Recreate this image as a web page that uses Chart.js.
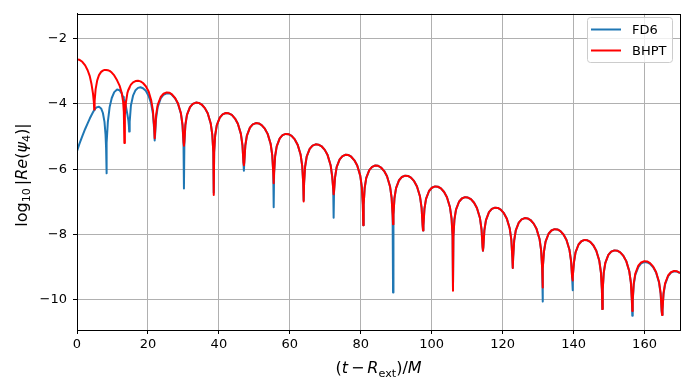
<!DOCTYPE html>
<html>
<head>
<meta charset="utf-8">
<script src="https://cdn.jsdelivr.net/npm/chart.js@4.4.1/dist/chart.umd.min.js"></script>
<style>
  html, body { margin: 0; padding: 0; background: #ffffff; }
  #wrap { width: 690px; height: 390px; position: relative; }
</style>
</head>
<body>
<div id="wrap"><canvas id="c" width="690" height="390"></canvas></div>
<script>
// ---- data ----
const seriesNames = ['FD6', 'BHPT'];
const t = [
  0, 0.7, 1.5, 2.3, 3.0, 3.6, 4.1, 4.5, 4.75, 4.85,
  4.97, 5.25, 5.7, 6.2, 6.8, 7.3, 7.75, 8.05, 8.2, 8.3,
  8.4, 8.7, 9.2, 9.8, 10.5, 11.3, 12.0, 12.6, 13.0, 13.2,
  13.35, 13.5, 13.8, 14.2, 14.5, 14.62, 14.72, 14.85, 15.2, 15.8,
  16.5, 17.2, 17.9, 18.6, 19.4, 20.2, 20.9, 21.4, 21.75, 21.9,
  22.02, 22.3, 22.75, 23.6, 24.4, 25.3, 26.1, 26.75, 27.65, 28.45, 29.3, 29.75, 30.03, 30.15,
  30.27, 30.55, 31.0, 31.85, 32.65, 33.55, 34.35, 35.15, 36.05, 36.85, 37.7, 38.15, 38.43, 38.55,
  38.67, 38.95, 39.4, 40.25, 41.05, 41.95, 42.75, 43.65, 44.55, 45.35, 46.2, 46.65, 46.93, 47.05,
  47.17, 47.45, 47.9, 48.75, 49.55, 50.45, 51.25, 52.05, 52.95, 53.75, 54.6, 55.05, 55.33, 55.45,
  55.57, 55.85, 56.3, 57.15, 57.95, 58.85, 59.65, 60.5, 61.4, 62.2, 63.05, 63.5, 63.78, 63.9,
  64.02, 64.3, 64.75, 65.6, 66.4, 67.3, 68.1, 68.95, 69.85, 70.65, 71.5, 71.95, 72.23, 72.35,
  72.47, 72.75, 73.2, 74.05, 74.85, 75.75, 76.55, 77.3, 78.2, 79.0, 79.85, 80.3, 80.58, 80.7,
  80.82, 81.1, 81.55, 82.4, 83.2, 84.1, 84.9, 85.7, 86.6, 87.4, 88.25, 88.7, 88.98, 89.1,
  89.22, 89.5, 89.95, 90.8, 91.6, 92.5, 93.3, 94.15, 95.05, 95.85, 96.7, 97.15, 97.43, 97.55,
  97.67, 97.95, 98.4, 99.25, 100.05, 100.95, 101.75, 102.6, 103.5, 104.3, 105.15, 105.6, 105.88, 106.0,
  106.12, 106.4, 106.85, 107.7, 108.5, 109.4, 110.2, 111.05, 111.95, 112.75, 113.6, 114.05, 114.33, 114.45,
  114.57, 114.85, 115.3, 116.15, 116.95, 117.85, 118.65, 119.45, 120.35, 121.15, 122.0, 122.45, 122.73, 122.85,
  122.97, 123.25, 123.7, 124.55, 125.35, 126.25, 127.05, 127.85, 128.75, 129.55, 130.4, 130.85, 131.13, 131.25,
  131.37, 131.65, 132.1, 132.95, 133.75, 134.65, 135.45, 136.3, 137.2, 138.0, 138.85, 139.3, 139.58, 139.7,
  139.82, 140.1, 140.55, 141.4, 142.2, 143.1, 143.9, 144.7, 145.6, 146.4, 147.25, 147.7, 147.98, 148.1,
  148.22, 148.5, 148.95, 149.8, 150.6, 151.5, 152.3, 153.15, 154.05, 154.85, 155.7, 156.15, 156.43, 156.55,
  156.67, 156.95, 157.4, 158.25, 159.05, 159.95, 160.75, 161.55, 162.45, 163.25, 164.1, 164.55, 164.83, 164.95,
  165.07, 165.35, 165.8, 166.65, 167.45, 168.35, 169.15, 170.0
];
const bhpt = [
  -2.64, -2.65, -2.71, -2.82, -2.97, -3.15, -3.40, -3.68, -3.95, -4.17,
  -3.92, -3.55, -3.28, -3.12, -3.02, -2.98, -2.96, -2.96, -2.96, -2.96,
  -2.96, -2.97, -2.99, -3.04, -3.13, -3.28, -3.44, -3.66, -3.93, -4.25,
  -5.20, -4.35, -3.95, -3.67, -3.56, -3.53, -3.51, -3.48, -3.41, -3.34,
  -3.30, -3.29, -3.31, -3.36, -3.46, -3.62, -3.88, -4.20, -4.70, -5.05,
  -4.85, -4.34, -4.03, -3.79, -3.69, -3.65, -3.66, -3.71, -3.82, -3.98, -4.29, -4.64, -5.17, -5.28,
  -5.16, -4.65, -4.34, -4.10, -4.00, -3.96, -3.97, -4.02, -4.13, -4.29, -4.60, -4.95, -5.48, -6.79,
  -5.48, -4.97, -4.66, -4.42, -4.32, -4.28, -4.29, -4.34, -4.45, -4.61, -4.92, -5.27, -5.80, -5.88,
  -5.79, -5.28, -4.97, -4.73, -4.63, -4.59, -4.60, -4.65, -4.76, -4.92, -5.23, -5.58, -6.11, -6.43,
  -6.12, -5.61, -5.30, -5.06, -4.96, -4.92, -4.93, -4.98, -5.09, -5.25, -5.56, -5.91, -6.44, -6.99,
  -6.44, -5.93, -5.62, -5.38, -5.28, -5.24, -5.25, -5.30, -5.41, -5.57, -5.88, -6.23, -6.60, -6.77,
  -6.68, -6.25, -5.94, -5.70, -5.60, -5.56, -5.57, -5.62, -5.73, -5.89, -6.20, -6.55, -7.08, -7.72,
  -7.09, -6.58, -6.27, -6.03, -5.93, -5.89, -5.90, -5.95, -6.06, -6.22, -6.53, -6.88, -7.41, -7.69,
  -7.40, -6.89, -6.58, -6.34, -6.24, -6.20, -6.21, -6.26, -6.37, -6.53, -6.84, -7.19, -7.72, -7.88,
  -7.73, -7.22, -6.91, -6.67, -6.57, -6.53, -6.54, -6.59, -6.70, -6.86, -7.17, -7.52, -8.05, -9.73,
  -8.06, -7.55, -7.24, -7.00, -6.90, -6.86, -6.87, -6.92, -7.03, -7.19, -7.50, -7.85, -8.38, -8.50,
  -8.38, -7.87, -7.56, -7.32, -7.22, -7.18, -7.19, -7.24, -7.35, -7.51, -7.82, -8.17, -8.70, -9.03,
  -8.70, -8.19, -7.88, -7.64, -7.54, -7.50, -7.51, -7.56, -7.67, -7.83, -8.14, -8.49, -9.02, -9.63,
  -9.04, -8.53, -8.22, -7.98, -7.88, -7.84, -7.85, -7.90, -8.01, -8.17, -8.48, -8.83, -9.30, -9.41,
  -9.30, -8.86, -8.55, -8.31, -8.21, -8.17, -8.18, -8.23, -8.34, -8.50, -8.81, -9.16, -9.69, -10.29,
  -9.69, -9.18, -8.87, -8.63, -8.53, -8.49, -8.50, -8.55, -8.66, -8.82, -9.13, -9.48, -10.01, -10.35,
  -10.02, -9.51, -9.20, -8.96, -8.86, -8.82, -8.83, -8.88, -8.99, -9.15, -9.46, -9.81, -10.34, -10.47,
  -10.32, -9.81, -9.50, -9.26, -9.16, -9.12, -9.13, -9.18
];
const fd6 = [
  -5.45, -5.22, -4.99, -4.77, -4.60, -4.45, -4.34, -4.26, -4.21, -4.19,
  -4.17, -4.13, -4.10, -4.09, -4.14, -4.28, -4.55, -4.95, -5.35, -6.13,
  -5.20, -4.55, -4.10, -3.82, -3.64, -3.56, -3.58, -3.68, -3.79, -3.85,
  -3.90, -3.96, -4.08, -4.32, -4.52, -4.66, -4.85, -4.55, -4.05, -3.75,
  -3.58, -3.51, -3.49, -3.52, -3.60, -3.76, -3.99, -4.30, -4.78, -5.12,
  -4.95, -4.45, -4.10, -3.83, -3.72, -3.68, -3.68, -3.72, -3.83, -3.99, -4.30, -4.66, -5.25, -6.59,
  -5.25, -4.65, -4.34, -4.10, -4.00, -3.96, -3.97, -4.02, -4.13, -4.29, -4.60, -4.95, -5.48, -6.72,
  -5.48, -4.97, -4.66, -4.42, -4.32, -4.28, -4.29, -4.34, -4.45, -4.61, -4.92, -5.27, -5.80, -6.05,
  -5.79, -5.28, -4.97, -4.73, -4.63, -4.59, -4.60, -4.65, -4.76, -4.92, -5.23, -5.58, -6.11, -7.17,
  -6.12, -5.61, -5.30, -5.06, -4.96, -4.92, -4.93, -4.98, -5.09, -5.25, -5.56, -5.91, -6.44, -6.95,
  -6.44, -5.93, -5.62, -5.38, -5.28, -5.24, -5.25, -5.30, -5.41, -5.57, -5.88, -6.23, -6.60, -7.49,
  -6.68, -6.25, -5.94, -5.70, -5.60, -5.56, -5.57, -5.62, -5.73, -5.89, -6.20, -6.55, -7.08, -7.72,
  -7.09, -6.58, -6.27, -6.03, -5.93, -5.89, -5.90, -5.95, -6.06, -6.22, -6.53, -6.88, -7.41, -9.78,
  -7.40, -6.89, -6.58, -6.34, -6.24, -6.20, -6.21, -6.26, -6.37, -6.53, -6.84, -7.19, -7.72, -7.88,
  -7.73, -7.22, -6.91, -6.67, -6.57, -6.53, -6.54, -6.59, -6.70, -6.86, -7.17, -7.52, -8.05, -9.70,
  -8.06, -7.55, -7.24, -7.00, -6.90, -6.86, -6.87, -6.92, -7.03, -7.19, -7.50, -7.85, -8.38, -8.50,
  -8.38, -7.87, -7.56, -7.32, -7.22, -7.18, -7.19, -7.24, -7.35, -7.51, -7.82, -8.17, -8.70, -9.03,
  -8.70, -8.19, -7.88, -7.64, -7.54, -7.50, -7.51, -7.56, -7.67, -7.83, -8.14, -8.49, -9.02, -10.06,
  -9.04, -8.53, -8.22, -7.98, -7.88, -7.84, -7.85, -7.90, -8.01, -8.17, -8.48, -8.83, -9.30, -9.71,
  -9.30, -8.86, -8.55, -8.31, -8.21, -8.17, -8.18, -8.23, -8.34, -8.50, -8.81, -9.16, -9.69, -10.29,
  -9.69, -9.18, -8.87, -8.63, -8.53, -8.49, -8.50, -8.55, -8.66, -8.82, -9.13, -9.48, -10.01, -10.49,
  -10.05, -9.55, -9.24, -9.00, -8.89, -8.85, -8.86, -8.90, -9.01, -9.17, -9.48, -9.83, -10.36, -10.47,
  -10.30, -9.83, -9.53, -9.28, -9.17, -9.13, -9.14, -9.19
];
const xTicks = [0, 20, 40, 60, 80, 100, 120, 140, 160];
const yTicks = [-10, -8, -6, -4, -2];
const xRange = [0, 170];
const yRange = [-10.93, -1.24];
const seriesColors = ['#1f77b4', '#ff0000'];

// ---- chart ----
const FONT = '"DejaVu Sans", "Liberation Sans", sans-serif';
const fmt = v => String(v).replace('-', '\u2212');
const toPts = ys => t.map((x, i) => ({ x: x, y: ys[i] }));

function drawRuns(ctx, runs, x, y, size) {
  let cx = x;
  for (const r of runs) {
    const s = r.sub ? size * 0.7 : size;
    ctx.font = (r.italic ? 'italic ' : '') + s + 'px ' + FONT;
    ctx.fillText(r.text, cx, y + (r.sub ? size * 0.22 : 0));
    cx += ctx.measureText(r.text).width + (r.gap || 0);
  }
  return cx - x;
}
function runsWidth(ctx, runs, size) {
  let w = 0;
  for (const r of runs) {
    const s = r.sub ? size * 0.7 : size;
    ctx.font = (r.italic ? 'italic ' : '') + s + 'px ' + FONT;
    w += ctx.measureText(r.text).width + (r.gap || 0);
  }
  return w;
}

const xLabelRuns = [
  { text: '(' }, { text: 't', italic: true, gap: 3 }, { text: '\u2212', gap: 3 },
  { text: 'R', italic: true }, { text: 'ext', sub: true }, { text: ')/' }, { text: 'M', italic: true }
];
const yLabelRuns = [
  { text: 'log' }, { text: '10', sub: true, gap: 3 }, { text: '|' },
  { text: 'Re', italic: true }, { text: '(' }, { text: '\u03c8', italic: true },
  { text: '4', sub: true }, { text: ')|' }
];

const decor = {
  id: 'decor',
  afterDraw(chart) {
    const ctx = chart.ctx;
    const a = chart.chartArea;
    ctx.save();
    // frame
    ctx.strokeStyle = '#000';
    ctx.lineWidth = 1;
    ctx.strokeRect(Math.round(a.left) + 0.5, Math.round(a.top) + 0.5,
                   Math.round(a.right - a.left), Math.round(a.bottom - a.top));
    // axis labels
    ctx.fillStyle = '#000';
    ctx.textBaseline = 'alphabetic';
    ctx.textAlign = 'left';
    const size = 16;
    const xw = runsWidth(ctx, xLabelRuns, size);
    drawRuns(ctx, xLabelRuns, (a.left + a.right) / 2 - xw / 2, 373, size);
    ctx.save();
    ctx.translate(26.5, 175);
    ctx.rotate(-Math.PI / 2);
    const yw = runsWidth(ctx, yLabelRuns, size);
    drawRuns(ctx, yLabelRuns, -yw / 2, 0, size);
    ctx.restore();
    // legend
    const lx = 587.5, ly = 17.5, lw = 85, lh = 45, r = 3;
    ctx.beginPath();
    ctx.moveTo(lx + r, ly);
    ctx.arcTo(lx + lw, ly, lx + lw, ly + lh, r);
    ctx.arcTo(lx + lw, ly + lh, lx, ly + lh, r);
    ctx.arcTo(lx, ly + lh, lx, ly, r);
    ctx.arcTo(lx, ly, lx + lw, ly, r);
    ctx.closePath();
    ctx.fillStyle = 'rgba(255,255,255,0.8)';
    ctx.fill();
    ctx.strokeStyle = '#cccccc';
    ctx.stroke();
    const rows = [29.5, 50.5];
    ctx.font = '13px ' + FONT;
    ctx.textBaseline = 'middle';
    seriesNames.forEach((name, i) => {
      ctx.strokeStyle = seriesColors[i];
      ctx.lineWidth = 2;
      ctx.beginPath();
      ctx.moveTo(591, rows[i]);
      ctx.lineTo(621, rows[i]);
      ctx.stroke();
      ctx.fillStyle = '#000';
      ctx.fillText(name, 632, rows[i] + 1);
    });
    ctx.restore();
  }
};

new Chart(document.getElementById('c'), {
  type: 'line',
  data: {
    datasets: [
      { label: seriesNames[0], data: toPts(fd6), borderColor: seriesColors[0], order: 2 },
      { label: seriesNames[1], data: toPts(bhpt), borderColor: seriesColors[1], order: 1 }
    ]
  },
  options: {
    responsive: false,
    animation: false,
    devicePixelRatio: 1,
    parsing: false,
    normalized: true,
    layout: { padding: { left: 0, top: 10, right: 10, bottom: 0 } },
    elements: {
      point: { radius: 0, hoverRadius: 0 },
      line: { borderWidth: 2, tension: 0, fill: false, borderJoinStyle: 'round', borderCapStyle: 'butt' }
    },
    plugins: { legend: { display: false }, tooltip: { enabled: false } },
    scales: {
      x: {
        type: 'linear', min: xRange[0], max: xRange[1],
        afterBuildTicks: s => { s.ticks = xTicks.map(v => ({ value: v })); },
        afterFit: s => { s.height = 60; },
        grid: { color: '#b0b0b0', lineWidth: 1, tickColor: '#000', tickLength: 4, drawTicks: true },
        border: { display: true, color: '#000', width: 1 },
        ticks: { color: '#000', font: { family: FONT, size: 13 }, padding: 3, maxRotation: 0, autoSkip: false, callback: v => fmt(v) }
      },
      y: {
        type: 'linear', min: yRange[0], max: yRange[1],
        afterBuildTicks: s => { s.ticks = yTicks.map(v => ({ value: v })); },
        afterFit: s => { s.width = 77; },
        grid: { color: '#b0b0b0', lineWidth: 1, tickColor: '#000', tickLength: 4, drawTicks: true },
        border: { display: true, color: '#000', width: 1 },
        ticks: { color: '#000', font: { family: FONT, size: 13 }, padding: 6, autoSkip: false, callback: v => fmt(v) }
      }
    }
  },
  plugins: [decor]
});
</script>
</body>
</html>
